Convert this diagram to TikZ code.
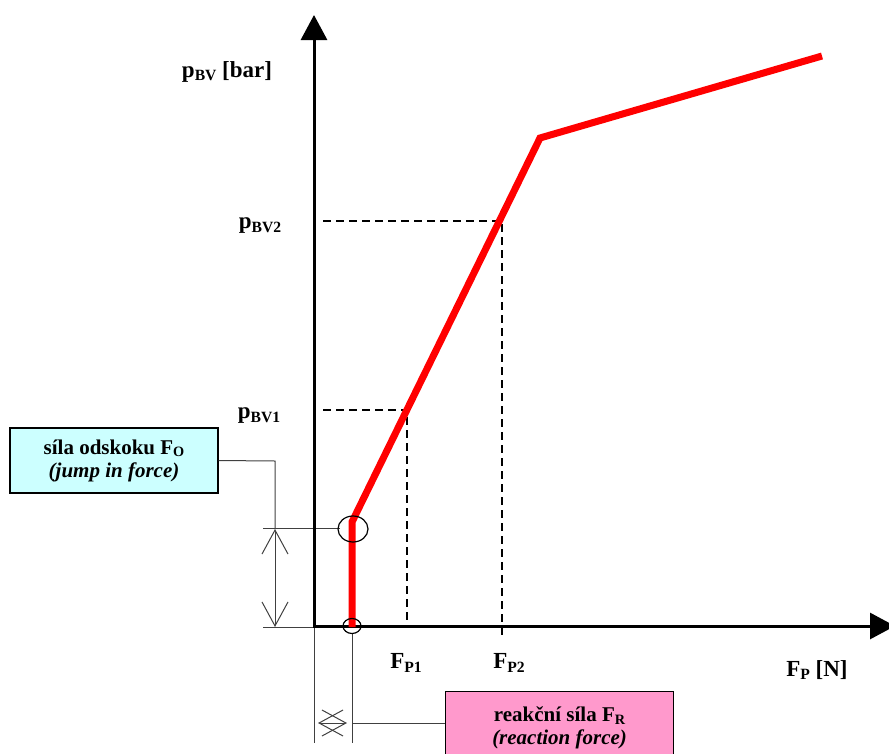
\documentclass[tikz,border=0pt]{standalone}
\usepackage{fontspec}
\setmainfont{Liberation Serif}
\usetikzlibrary{arrows.meta}
\definecolor{cyanbox}{HTML}{CCFFFF}
\definecolor{pinkbox}{HTML}{FF99CC}
\definecolor{redline}{HTML}{FF0000}
\newcommand{\lsub}[1]{\raisebox{-0.3ex}{\scalebox{0.68}{#1}}}
\begin{document}
\begin{tikzpicture}[x=1pt,y=-1pt,
  axis/.style={line width=3pt,{Triangle[length=25pt,width=26pt]}-{Triangle[length=25pt,width=26pt]}},
  curve/.style={redline,line width=7pt},
  guide/.style={dash pattern=on 8pt off 5pt,line width=1.8pt},
  thinline/.style={line width=1pt,black!75},
  dimarrow/.style={thinline,{Straight Barb[length=24pt,width=26pt]}-{Straight Barb[length=24pt,width=26pt]}},
  lbl/.style={font=\fontsize{23}{27}\selectfont\bfseries,inner sep=0pt},
  infobox/.style={draw,line width=1.2pt,font=\fontsize{21}{23}\selectfont\bfseries,align=center,inner sep=0pt}]
\useasboundingbox (0,0) rectangle (889,753);
\clip (0,0) rectangle (889,753);
% coordinates
\coordinate (O) at (314,626);
\coordinate (ytop) at (314,15);
\coordinate (xend) at (895,626);
\coordinate (c0) at (352,627);
\coordinate (c1) at (352,522);
\coordinate (c2) at (540,138);
\coordinate (c3) at (822,56);
% thin helper lines
\draw[thinline] (263,528) -- (340,528);
\draw[thinline] (263,627) -- (314,627);
\draw[thinline] (314,627) -- (314,743);
\draw[thinline] (352,634) -- (352,743);
% dashed guides
\draw[guide] (323,221) -- (502,221) -- (502,636);
\draw[guide] (323,410) -- (407,410) -- (407,626);
% axes
\draw[axis] (ytop) -- (O) -- (xend);
% curve
\draw[curve] (c0) -- (c1) -- (c2) -- (c3);
% circles
\draw[line width=1.2pt] (353,529) ellipse [x radius=15pt,y radius=13pt];
\draw[line width=1.2pt] (352,626) ellipse [x radius=9pt,y radius=7.5pt];
% labels
\node[lbl] (pbv) at (227,72) {p\lsub{BV} [bar]};
\node[lbl] (pbv2) at (260,226) {p\lsub{BV2}};
\node[lbl] (pbv1) at (259,416) {p\lsub{BV1}};
\node[lbl] (fp1) at (406,663) {F\lsub{P1}};
\node[lbl] (fp2) at (509,663) {F\lsub{P2}};
\node[lbl] (fpn) at (817,670) {F\lsub{P} [N]};
% boxes
\node[infobox,fill=cyanbox,minimum width=208pt,minimum height=65pt] (jump) at (114,460.5)
  {síla odskoku F\lsub{O}\\\textit{(jump in force)}};
\node[infobox,fill=pinkbox,minimum width=228pt,minimum height=72pt,anchor=north west] (react) at (445,691)
  {reakční síla F\lsub{R}\\\textit{(reaction force)}};
% leaders
\coordinate (j1) at (275,461);
\coordinate (d1) at (275,529);
\coordinate (d2) at (275,627);
\draw[thinline] (jump.east) -- (j1) -- (d1);
\draw[dimarrow] (d1) -- (d2);
\coordinate (r1) at (352,723);
\coordinate (rl) at (318,723);
\coordinate (rr) at (347,723);
\draw[thinline] (react.west |- r1) -- (r1);
\draw[dimarrow] (rl) -- (rr);
\end{tikzpicture}
\end{document}
